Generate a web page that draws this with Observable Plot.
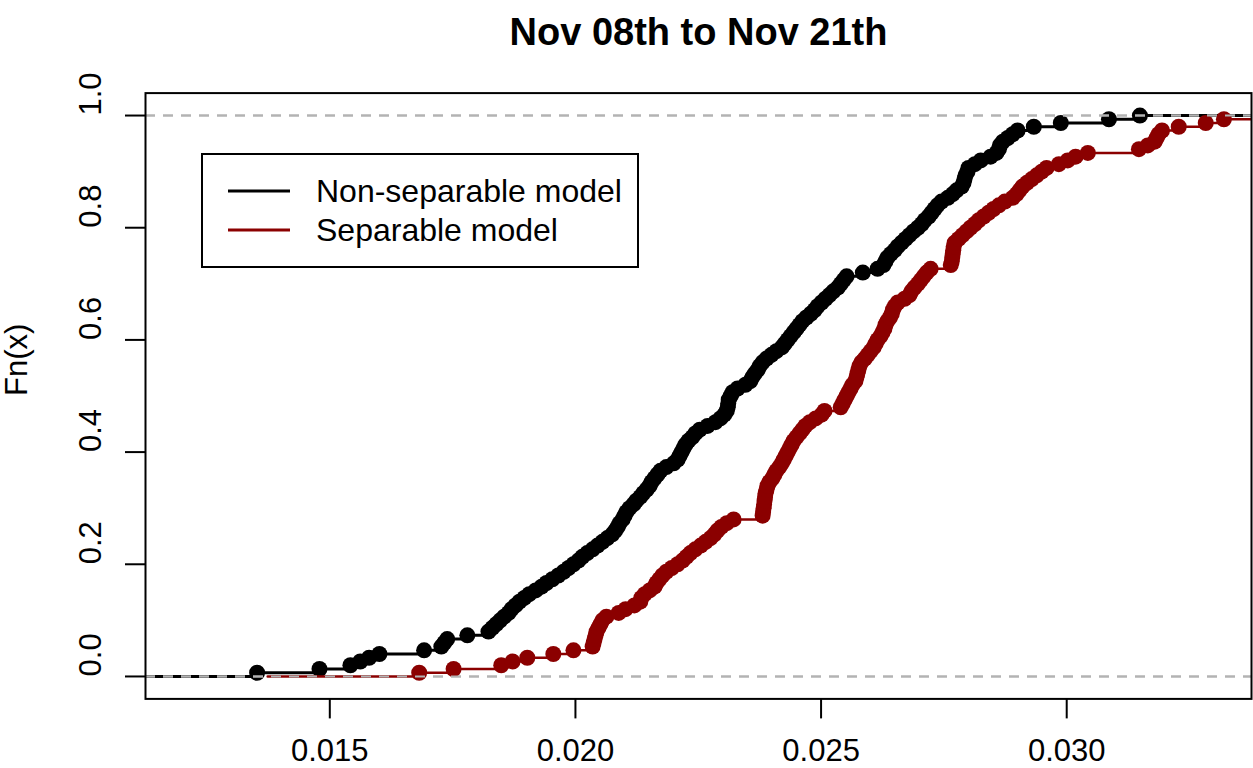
<!DOCTYPE html>
<html><head><meta charset="utf-8">
<script src="https://cdn.jsdelivr.net/npm/d3@7"></script>
<script src="https://cdn.jsdelivr.net/npm/@observablehq/plot@0.6"></script>
<style>
body{margin:0;background:#fff;font-family:"Liberation Sans",Arial,Helvetica,sans-serif}
#wrap{position:relative;width:1253px;height:768px;overflow:hidden}
#legend{position:absolute;left:201px;top:153px;width:438px;height:115px}
</style></head><body>
<div id="wrap"></div>
<script>
const chartTitle = "Nov 08th to Nov 21th";
const yLabel = "Fn(x)";
const seriesNames = ["Non-separable model", "Separable model"];
const seriesColors = ["#000000", "#8b0000"];
const xTicks = [0.015, 0.020, 0.025, 0.030];
const yTicks = [0, 0.2, 0.4, 0.6, 0.8, 1.0];

const nonSeparable = [0.01352, 0.01479, 0.01542, 0.01562, 0.01580, 0.01601, 0.01692, 0.01727, 0.01733, 0.01739, 0.01780, 0.01823, 0.01831, 0.01839, 0.01847, 0.01855, 0.01864, 0.01870, 0.01878, 0.01886, 0.01896, 0.01906, 0.01919, 0.01931, 0.01941, 0.01953, 0.01965, 0.01976, 0.01986, 0.01996, 0.02006, 0.02014, 0.02024, 0.02035, 0.02045, 0.02055, 0.02065, 0.02075, 0.02081, 0.02086, 0.02090, 0.02096, 0.02100, 0.02104, 0.02110, 0.02118, 0.02124, 0.02132, 0.02138, 0.02145, 0.02151, 0.02155, 0.02161, 0.02167, 0.02173, 0.02185, 0.02200, 0.02208, 0.02212, 0.02216, 0.02220, 0.02224, 0.02230, 0.02238, 0.02244, 0.02253, 0.02269, 0.02285, 0.02295, 0.02303, 0.02308, 0.02310, 0.02311, 0.02312, 0.02316, 0.02320, 0.02330, 0.02346, 0.02356, 0.02360, 0.02365, 0.02371, 0.02375, 0.02381, 0.02389, 0.02399, 0.02409, 0.02420, 0.02426, 0.02432, 0.02438, 0.02444, 0.02450, 0.02456, 0.02462, 0.02470, 0.02479, 0.02487, 0.02493, 0.02501, 0.02509, 0.02517, 0.02525, 0.02534, 0.02540, 0.02546, 0.02552, 0.02585, 0.02615, 0.02627, 0.02631, 0.02635, 0.02642, 0.02650, 0.02656, 0.02664, 0.02672, 0.02680, 0.02688, 0.02697, 0.02705, 0.02711, 0.02719, 0.02725, 0.02731, 0.02737, 0.02745, 0.02758, 0.02768, 0.02776, 0.02786, 0.02790, 0.02792, 0.02794, 0.02798, 0.02800, 0.02813, 0.02825, 0.02845, 0.02857, 0.02862, 0.02864, 0.02870, 0.02880, 0.02890, 0.02900, 0.02933, 0.02988, 0.03086, 0.03149];

const separable = [0.01682, 0.01752, 0.01849, 0.01872, 0.01902, 0.01955, 0.01996, 0.02035, 0.02037, 0.02039, 0.02041, 0.02043, 0.02047, 0.02051, 0.02055, 0.02063, 0.02088, 0.02102, 0.02120, 0.02132, 0.02134, 0.02141, 0.02151, 0.02161, 0.02165, 0.02171, 0.02177, 0.02185, 0.02196, 0.02208, 0.02218, 0.02226, 0.02234, 0.02244, 0.02255, 0.02265, 0.02275, 0.02283, 0.02289, 0.02297, 0.02308, 0.02322, 0.02381, 0.02382, 0.02383, 0.02384, 0.02385, 0.02386, 0.02387, 0.02389, 0.02391, 0.02395, 0.02401, 0.02405, 0.02409, 0.02415, 0.02420, 0.02424, 0.02428, 0.02432, 0.02436, 0.02440, 0.02444, 0.02450, 0.02456, 0.02462, 0.02468, 0.02477, 0.02489, 0.02501, 0.02507, 0.02540, 0.02544, 0.02548, 0.02552, 0.02556, 0.02560, 0.02564, 0.02570, 0.02572, 0.02574, 0.02576, 0.02578, 0.02582, 0.02589, 0.02595, 0.02601, 0.02607, 0.02611, 0.02615, 0.02621, 0.02625, 0.02629, 0.02631, 0.02635, 0.02640, 0.02644, 0.02646, 0.02650, 0.02656, 0.02670, 0.02680, 0.02684, 0.02690, 0.02697, 0.02703, 0.02709, 0.02715, 0.02723, 0.02764, 0.02766, 0.02767, 0.02768, 0.02769, 0.02770, 0.02772, 0.02780, 0.02788, 0.02796, 0.02804, 0.02813, 0.02821, 0.02831, 0.02841, 0.02851, 0.02862, 0.02874, 0.02890, 0.02898, 0.02904, 0.02910, 0.02919, 0.02929, 0.02939, 0.02949, 0.02959, 0.02984, 0.03002, 0.03018, 0.03043, 0.03147, 0.03165, 0.03179, 0.03183, 0.03187, 0.03194, 0.03228, 0.03283, 0.03320, 0.0361];

// empirical CDF as R's plot.stepfun builds it
function ecdf(values) {
  const v = values.slice().sort(d3.ascending);
  const n = v.length;
  const dr = Math.max(0.08 * (v[n - 1] - v[0]), d3.median(d3.pairs(v, (a, b) => b - a)));
  const pts = v.map((x, i) => ({x, y: (i + 1) / n}));
  const line = [{x: v[0] - 2 * dr, y: 0}, ...pts, {x: v[n - 1] + 2 * dr, y: 1}];
  return {pts, line, dr, min: v[0], max: v[n - 1]};
}
const A = ecdf(nonSeparable);
const B = ecdf(separable);
const lo = A.min - A.dr, hi = A.max + A.dr, pad = 0.04 * (hi - lo);
const xDomain = [lo - pad, hi + pad];

const font = '"Liberation Sans", Arial, Helvetica, sans-serif';
const grey = {stroke: "#b3b3b3", strokeWidth: 2, strokeDasharray: "10,8"};

const chart = Plot.plot({
  width: 1253, height: 768,
  marginLeft: 145, marginRight: 2, marginTop: 92.6, marginBottom: 69.6,
  style: {fontFamily: font, background: "white", overflow: "visible"},
  x: {domain: xDomain},
  y: {domain: [-0.04, 1.04]},
  marks: [
    Plot.line(A.line, {x: "x", y: "y", curve: "step-after", stroke: seriesColors[0], strokeWidth: 3, clip: true}),
    Plot.dot(A.pts, {x: "x", y: "y", r: 8, fill: seriesColors[0], clip: true}),
    Plot.ruleY([0, 1], grey),
    Plot.line(B.line, {x: "x", y: "y", curve: "step-after", stroke: seriesColors[1], strokeWidth: 2.5, clip: true}),
    Plot.dot(B.pts, {x: "x", y: "y", r: 8, fill: seriesColors[1], clip: true}),
    Plot.ruleY([0, 1], grey),
    Plot.frame({stroke: "black", strokeWidth: 2}),
    Plot.axisX(xTicks, {tickSize: 20, tickPadding: 20, tickFormat: d3.format(".3f"), fontSize: 31, label: null, strokeWidth: 2}),
    Plot.axisY(yTicks, {tickSize: 20, tickFormat: () => "", label: null, strokeWidth: 2}),
    Plot.text(yTicks, {y: d => d, text: d => d3.format(".1f")(d), frameAnchor: "left", rotate: -90, dx: -54, fontSize: 31}),
    Plot.text([yLabel], {text: d => d, frameAnchor: "left", rotate: -90, dx: -128, fontSize: 31}),
    Plot.text([chartTitle], {text: d => d, frameAnchor: "top", dy: -74.6, fontSize: 38, fontWeight: "bold"})
  ]
});
const wrap = document.getElementById("wrap");
wrap.appendChild(chart);

// legend box (R legend)
const lg = document.createElement("div");
lg.id = "legend";
const ns = "http://www.w3.org/2000/svg";
const svg = document.createElementNS(ns, "svg");
svg.setAttribute("width", 438); svg.setAttribute("height", 115);
svg.style.fontFamily = font;
const rect = document.createElementNS(ns, "rect");
rect.setAttribute("x", 1); rect.setAttribute("y", 1); rect.setAttribute("width", 436); rect.setAttribute("height", 113);
rect.setAttribute("fill", "white"); rect.setAttribute("stroke", "black"); rect.setAttribute("stroke-width", 2);
svg.appendChild(rect);
seriesNames.forEach((name, i) => {
  const yy = 38 + i * 39;
  const ln = document.createElementNS(ns, "line");
  ln.setAttribute("x1", 27); ln.setAttribute("x2", 89); ln.setAttribute("y1", yy); ln.setAttribute("y2", yy);
  ln.setAttribute("stroke", seriesColors[i]); ln.setAttribute("stroke-width", 3);
  svg.appendChild(ln);
  const t = document.createElementNS(ns, "text");
  t.setAttribute("x", 115); t.setAttribute("y", yy + 11); t.setAttribute("font-size", 32);
  t.textContent = name;
  svg.appendChild(t);
});
lg.appendChild(svg);
wrap.appendChild(lg);
</script>
</body></html>
